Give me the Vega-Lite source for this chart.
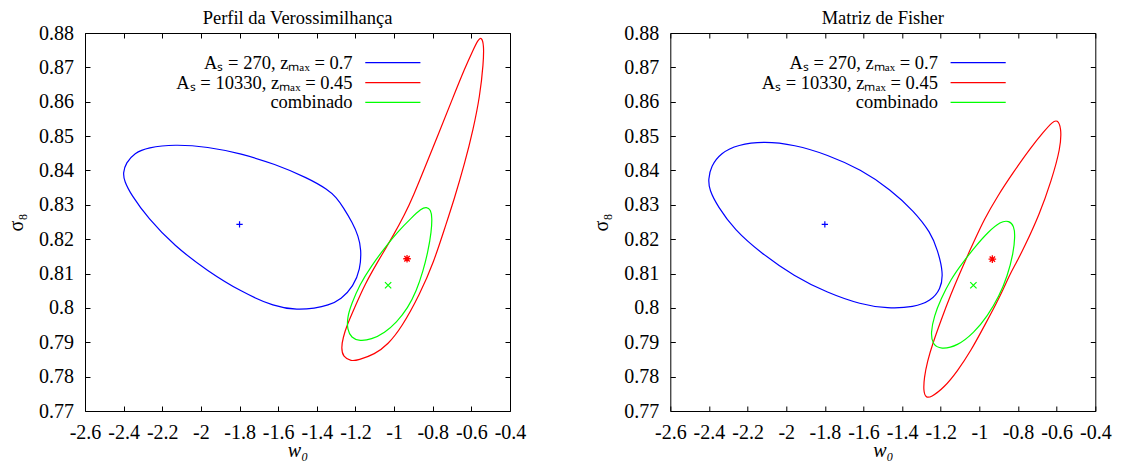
{
 "$schema": "https://vega.github.io/schema/vega-lite/v6.json",
 "background": "white",
 "padding": {"left": 6, "top": 8, "right": 5, "bottom": 5},
 "datasets": {
  "ell": [
   {"p":"L","s":"A","i":0,"x":-2.4035,"y":0.8393},{"p":"L","s":"A","i":1,"x":-2.388,"y":0.8422},{"p":"L","s":"A","i":2,"x":-2.344,"y":0.8451},{"p":"L","s":"A","i":3,"x":-2.2755,"y":0.8467},{"p":"L","s":"A","i":4,"x":-2.137,"y":0.8476},{"p":"L","s":"A","i":5,"x":-1.9644,"y":0.8469},{"p":"L","s":"A","i":6,"x":-1.7918,"y":0.8449},{"p":"L","s":"A","i":7,"x":-1.6187,"y":0.8419},{"p":"L","s":"A","i":8,"x":-1.446,"y":0.8378},{"p":"L","s":"A","i":8.5,"x":-1.342,"y":0.8344},{"p":"L","s":"A","i":9,"x":-1.3,"y":0.8322},{"p":"L","s":"A","i":10,"x":-1.2634,"y":0.8293},{"p":"L","s":"A","i":11,"x":-1.2156,"y":0.8248},{"p":"L","s":"A","i":12,"x":-1.1848,"y":0.8209},{"p":"L","s":"A","i":13,"x":-1.1697,"y":0.817},{"p":"L","s":"A","i":14,"x":-1.175,"y":0.8112},{"p":"L","s":"A","i":15,"x":-1.2108,"y":0.8063},{"p":"L","s":"A","i":16,"x":-1.2734,"y":0.8025},{"p":"L","s":"A","i":17,"x":-1.3424,"y":0.8007},{"p":"L","s":"A","i":18,"x":-1.4113,"y":0.7999},{"p":"L","s":"A","i":19,"x":-1.4979,"y":0.7994},{"p":"L","s":"A","i":20,"x":-1.6187,"y":0.8003},{"p":"L","s":"A","i":21,"x":-1.7918,"y":0.8047},{"p":"L","s":"A","i":22,"x":-1.9644,"y":0.8107},{"p":"L","s":"A","i":23,"x":-2.137,"y":0.818},{"p":"L","s":"A","i":24,"x":-2.2755,"y":0.8262},{"p":"L","s":"A","i":25,"x":-2.362,"y":0.833},{"p":"L","s":"A","i":26,"x":-2.3963,"y":0.8369},
   {"p":"L","s":"B","i":0,"x":-0.5476,"y":0.8788},{"p":"L","s":"B","i":1,"x":-0.5352,"y":0.8766},{"p":"L","s":"B","i":2,"x":-0.5373,"y":0.8713},{"p":"L","s":"B","i":3,"x":-0.5559,"y":0.8616},{"p":"L","s":"B","i":4,"x":-0.5907,"y":0.8519},{"p":"L","s":"B","i":5,"x":-0.6337,"y":0.8422},{"p":"L","s":"B","i":6,"x":-0.6894,"y":0.8315},{"p":"L","s":"B","i":7,"x":-0.7374,"y":0.8233},{"p":"L","s":"B","i":8,"x":-0.7929,"y":0.8136},{"p":"L","s":"B","i":9,"x":-0.867,"y":0.8039},{"p":"L","s":"B","i":10,"x":-0.9624,"y":0.7942},{"p":"L","s":"B","i":11,"x":-1.0313,"y":0.7894},{"p":"L","s":"B","i":12,"x":-1.0997,"y":0.7865},{"p":"L","s":"B","i":13,"x":-1.1868,"y":0.7848},{"p":"L","s":"B","i":14,"x":-1.2216,"y":0.7845},{"p":"L","s":"B","i":15,"x":-1.2646,"y":0.7857},{"p":"L","s":"B","i":16,"x":-1.2734,"y":0.7884},{"p":"L","s":"B","i":17,"x":-1.2646,"y":0.7913},{"p":"L","s":"B","i":18,"x":-1.2423,"y":0.7952},{"p":"L","s":"B","i":19,"x":-1.2039,"y":0.8001},{"p":"L","s":"B","i":20,"x":-1.1521,"y":0.8068},{"p":"L","s":"B","i":21,"x":-1.0832,"y":0.8136},{"p":"L","s":"B","i":22,"x":-1.0054,"y":0.8209},{"p":"L","s":"B","i":23,"x":-0.9447,"y":0.8272},{"p":"L","s":"B","i":24,"x":-0.9017,"y":0.8324},{"p":"L","s":"B","i":25,"x":-0.841,"y":0.8408},{"p":"L","s":"B","i":26,"x":-0.7721,"y":0.8504},{"p":"L","s":"B","i":27,"x":-0.7032,"y":0.8601},{"p":"L","s":"B","i":28,"x":-0.6337,"y":0.8698},{"p":"L","s":"B","i":29,"x":-0.5907,"y":0.8751},{"p":"L","s":"B","i":30,"x":-0.5648,"y":0.8781},
   {"p":"L","s":"C","i":0,"x":-0.8328,"y":0.8294},{"p":"L","s":"C","i":1,"x":-0.8099,"y":0.8286},{"p":"L","s":"C","i":2,"x":-0.8032,"y":0.8262},{"p":"L","s":"C","i":3,"x":-0.8068,"y":0.8223},{"p":"L","s":"C","i":4,"x":-0.824,"y":0.8165},{"p":"L","s":"C","i":5,"x":-0.8499,"y":0.8107},{"p":"L","s":"C","i":6,"x":-0.8846,"y":0.8049},{"p":"L","s":"C","i":7,"x":-0.9276,"y":0.8001},{"p":"L","s":"C","i":8,"x":-0.9883,"y":0.7957},{"p":"L","s":"C","i":9,"x":-1.0484,"y":0.7928},{"p":"L","s":"C","i":10,"x":-1.1179,"y":0.7908},{"p":"L","s":"C","i":11,"x":-1.178,"y":0.7903},{"p":"L","s":"C","i":12,"x":-1.2216,"y":0.7913},{"p":"L","s":"C","i":13,"x":-1.2423,"y":0.7937},{"p":"L","s":"C","i":14,"x":-1.2423,"y":0.7972},{"p":"L","s":"C","i":15,"x":-1.2216,"y":0.801},{"p":"L","s":"C","i":16,"x":-1.178,"y":0.8068},{"p":"L","s":"C","i":17,"x":-1.1179,"y":0.8122},{"p":"L","s":"C","i":18,"x":-1.0484,"y":0.8175},{"p":"L","s":"C","i":19,"x":-0.9795,"y":0.8223},{"p":"L","s":"C","i":20,"x":-0.9105,"y":0.8262},{"p":"L","s":"C","i":21,"x":-0.8587,"y":0.8289},
   {"p":"R","s":"A","i":0,"x":-2.4034,"y":0.8374},{"p":"R","s":"A","i":1,"x":-2.39,"y":0.8412},{"p":"R","s":"A","i":2,"x":-2.3382,"y":0.8451},{"p":"R","s":"A","i":3,"x":-2.2518,"y":0.8475},{"p":"R","s":"A","i":4,"x":-2.1137,"y":0.8485},{"p":"R","s":"A","i":5,"x":-1.9585,"y":0.8475},{"p":"R","s":"A","i":6,"x":-1.7862,"y":0.8446},{"p":"R","s":"A","i":7,"x":-1.614,"y":0.8403},{"p":"R","s":"A","i":8,"x":-1.4588,"y":0.8344},{"p":"R","s":"A","i":9,"x":-1.3377,"y":0.8281},{"p":"R","s":"A","i":10,"x":-1.2518,"y":0.8219},{"p":"R","s":"A","i":11,"x":-1.2172,"y":0.817},{"p":"R","s":"A","i":12,"x":-1.1861,"y":0.8102},{"p":"R","s":"A","i":13,"x":-1.2001,"y":0.8054},{"p":"R","s":"A","i":14,"x":-1.2518,"y":0.802},{"p":"R","s":"A","i":15,"x":-1.3377,"y":0.8002},{"p":"R","s":"A","i":16,"x":-1.4758,"y":0.7998},{"p":"R","s":"A","i":17,"x":-1.614,"y":0.801},{"p":"R","s":"A","i":18,"x":-1.7862,"y":0.8044},{"p":"R","s":"A","i":19,"x":-1.9585,"y":0.8092},{"p":"R","s":"A","i":20,"x":-2.1313,"y":0.816},{"p":"R","s":"A","i":21,"x":-2.2689,"y":0.8228},{"p":"R","s":"A","i":22,"x":-2.3553,"y":0.8296},{"p":"R","s":"A","i":23,"x":-2.3982,"y":0.8344},
   {"p":"R","s":"B","i":0,"x":-0.5964,"y":0.8548},{"p":"R","s":"B","i":1,"x":-0.5757,"y":0.8524},{"p":"R","s":"B","i":2,"x":-0.5793,"y":0.8466},{"p":"R","s":"B","i":3,"x":-0.628,"y":0.8369},{"p":"R","s":"B","i":4,"x":-0.689,"y":0.8272},{"p":"R","s":"B","i":5,"x":-0.769,"y":0.8175},{"p":"R","s":"B","i":6,"x":-0.814,"y":0.8126},{"p":"R","s":"B","i":7,"x":-0.843,"y":0.8097},{"p":"R","s":"B","i":8,"x":-0.896,"y":0.803},{"p":"R","s":"B","i":9,"x":-0.97,"y":0.7952},{"p":"R","s":"B","i":10,"x":-1.0449,"y":0.7874},{"p":"R","s":"B","i":11,"x":-1.1137,"y":0.7816},{"p":"R","s":"B","i":12,"x":-1.1825,"y":0.7768},{"p":"R","s":"B","i":13,"x":-1.2518,"y":0.7739},{"p":"R","s":"B","i":14,"x":-1.2777,"y":0.7739},{"p":"R","s":"B","i":15,"x":-1.2896,"y":0.7758},{"p":"R","s":"B","i":16,"x":-1.286,"y":0.7797},{"p":"R","s":"B","i":17,"x":-1.2689,"y":0.7845},{"p":"R","s":"B","i":18,"x":-1.243,"y":0.7894},{"p":"R","s":"B","i":19,"x":-1.2001,"y":0.7962},{"p":"R","s":"B","i":20,"x":-1.1484,"y":0.8039},{"p":"R","s":"B","i":21,"x":-1.0966,"y":0.8107},{"p":"R","s":"B","i":22,"x":-1.0584,"y":0.8156},{"p":"R","s":"B","i":23,"x":-1.0273,"y":0.8194},{"p":"R","s":"B","i":24,"x":-0.9756,"y":0.8257},{"p":"R","s":"B","i":25,"x":-0.9068,"y":0.8325},{"p":"R","s":"B","i":26,"x":-0.8204,"y":0.8398},{"p":"R","s":"B","i":27,"x":-0.7345,"y":0.8466},{"p":"R","s":"B","i":28,"x":-0.6652,"y":0.8514},{"p":"R","s":"B","i":29,"x":-0.6222,"y":0.8541},
   {"p":"R","s":"C","i":0,"x":-0.8463,"y":0.8254},{"p":"R","s":"C","i":1,"x":-0.8204,"y":0.8238},{"p":"R","s":"C","i":2,"x":-0.8152,"y":0.8209},{"p":"R","s":"C","i":3,"x":-0.824,"y":0.816},{"p":"R","s":"C","i":4,"x":-0.855,"y":0.8092},{"p":"R","s":"C","i":5,"x":-0.898,"y":0.8034},{"p":"R","s":"C","i":6,"x":-0.9585,"y":0.7976},{"p":"R","s":"C","i":7,"x":-1.0273,"y":0.7928},{"p":"R","s":"C","i":8,"x":-1.1137,"y":0.7889},{"p":"R","s":"C","i":9,"x":-1.2001,"y":0.7879},{"p":"R","s":"C","i":10,"x":-1.243,"y":0.7894},{"p":"R","s":"C","i":11,"x":-1.2518,"y":0.7928},{"p":"R","s":"C","i":12,"x":-1.2343,"y":0.7976},{"p":"R","s":"C","i":13,"x":-1.2001,"y":0.8025},{"p":"R","s":"C","i":14,"x":-1.1484,"y":0.8083},{"p":"R","s":"C","i":15,"x":-1.0878,"y":0.8131},{"p":"R","s":"C","i":16,"x":-1.019,"y":0.818},{"p":"R","s":"C","i":17,"x":-0.9585,"y":0.8219},{"p":"R","s":"C","i":18,"x":-0.8897,"y":0.8252}
  ],
  "ctr": [
   {"p":"L","s":"A","x":-1.8,"y":0.8243},{"p":"L","s":"B","x":-0.933,"y":0.8143},{"p":"L","s":"C","x":-1.031,"y":0.8066},
   {"p":"R","s":"A","x":-1.8,"y":0.8243},{"p":"R","s":"B","x":-0.933,"y":0.8142},{"p":"R","s":"C","x":-1.031,"y":0.8066}
  ]
 },
 "hconcat": [
  {
   "width": 425, "height": 378,
   "title": {"text": "Perfil da Verossimilhança"},
   "resolve": {"axis": {"x": "independent", "y": "independent"}},
   "layer": [
    {
     "data": {"name": "ell"},
     "transform": [{"filter": "datum.p == 'L'"}],
     "mark": {"type": "line", "interpolate": "basis-closed", "strokeWidth": 1.2},
     "encoding": {
      "x": {"field": "x", "type": "quantitative", "title": "w₀", "scale": {"domain": [-2.6, -0.4], "nice": false, "zero": false},
            "axis": {"orient": "bottom", "values": [-2.6,-2.4,-2.2,-2,-1.8,-1.6,-1.4,-1.2,-1,-0.8,-0.6,-0.4], "format": "~g", "labelExpr": "replace(datum.label, '−', '-')", "titleFontStyle": "italic"}},
      "y": {"field": "y", "type": "quantitative", "title": "σ₈", "scale": {"domain": [0.77, 0.88], "nice": false, "zero": false},
            "axis": {"orient": "left", "values": [0.77,0.78,0.79,0.8,0.81,0.82,0.83,0.84,0.85,0.86,0.87,0.88], "format": "~g"}},
      "color": {"field": "s", "type": "nominal", "scale": {"domain": ["A","B","C"], "range": ["#0000ff","#ff0000","#00ff00"]},
                "legend": {"orient": "none", "legendX": 298.6, "legendY": 20.4, "title": null, "symbolType": "M-4,0L4,0", "symbolSize": 190, "symbolStrokeWidth": 1.3, "labelAlign": "right", "labelOffset": -49.5, "labelFont": "Liberation Serif", "labelFontSize": 18.5, "labelColor": "#000", "labelLimit": 0, "rowPadding": 0.9, "padding": 0,
                           "labelExpr": "datum.value == 'A' ? 'Aₛ = 270, zₘₐₓ = 0.7' : datum.value == 'B' ? 'Aₛ = 10330, zₘₐₓ = 0.45' : 'combinado'"}},
      "order": {"field": "i", "type": "quantitative"}
     }
    },
    {
     "data": {"name": "ctr"},
     "transform": [{"filter": "datum.p == 'L' && datum.s == 'A'"}],
     "mark": {"type": "point", "shape": "M-1,0L1,0M0,-1L0,1", "filled": false, "color": "#0000ff", "strokeWidth": 1.2, "size": 40, "opacity": 1},
     "encoding": {
      "x": {"field": "x", "type": "quantitative", "axis": {"orient": "top", "labels": false, "title": null, "values": [-2.6,-2.4,-2.2,-2,-1.8,-1.6,-1.4,-1.2,-1,-0.8,-0.6,-0.4]}},
      "y": {"field": "y", "type": "quantitative", "axis": {"orient": "right", "labels": false, "title": null, "values": [0.77,0.78,0.79,0.8,0.81,0.82,0.83,0.84,0.85,0.86,0.87,0.88]}}
     }
    },
    {
     "data": {"name": "ctr"},
     "transform": [{"filter": "datum.p == 'L' && datum.s == 'B'"}],
     "mark": {"type": "point", "shape": "M-1.2,0L1.2,0M0,-1.2L0,1.2M-0.85,-0.85L0.85,0.85M-0.85,0.85L0.85,-0.85", "filled": false, "color": "#ff0000", "strokeWidth": 1.3, "size": 40, "opacity": 1},
     "encoding": {
      "x": {"field": "x", "type": "quantitative", "axis": null},
      "y": {"field": "y", "type": "quantitative", "axis": null}
     }
    },
    {
     "data": {"name": "ctr"},
     "transform": [{"filter": "datum.p == 'L' && datum.s == 'C'"}],
     "mark": {"type": "point", "shape": "M-1,-1L1,1M-1,1L1,-1", "filled": false, "color": "#00ff00", "strokeWidth": 1.2, "size": 40, "opacity": 1},
     "encoding": {
      "x": {"field": "x", "type": "quantitative", "axis": null},
      "y": {"field": "y", "type": "quantitative", "axis": null}
     }
    }
   ]
  },
  {
   "width": 425, "height": 378,
   "title": {"text": "Matriz de Fisher"},
   "resolve": {"axis": {"x": "independent", "y": "independent"}},
   "layer": [
    {
     "data": {"name": "ell"},
     "transform": [{"filter": "datum.p == 'R'"}],
     "mark": {"type": "line", "interpolate": "basis-closed", "strokeWidth": 1.2},
     "encoding": {
      "x": {"field": "x", "type": "quantitative", "title": "w₀", "scale": {"domain": [-2.6, -0.4], "nice": false, "zero": false},
            "axis": {"orient": "bottom", "values": [-2.6,-2.4,-2.2,-2,-1.8,-1.6,-1.4,-1.2,-1,-0.8,-0.6,-0.4], "format": "~g", "labelExpr": "replace(datum.label, '−', '-')", "titleFontStyle": "italic"}},
      "y": {"field": "y", "type": "quantitative", "title": "σ₈", "scale": {"domain": [0.77, 0.88], "nice": false, "zero": false},
            "axis": {"orient": "left", "values": [0.77,0.78,0.79,0.8,0.81,0.82,0.83,0.84,0.85,0.86,0.87,0.88], "format": "~g"}},
      "color": {"field": "s", "type": "nominal", "scale": {"domain": ["A","B","C"], "range": ["#0000ff","#ff0000","#00ff00"]},
                "legend": {"orient": "none", "legendX": 298.6, "legendY": 20.4, "title": null, "symbolType": "M-4,0L4,0", "symbolSize": 190, "symbolStrokeWidth": 1.3, "labelAlign": "right", "labelOffset": -49.5, "labelFont": "Liberation Serif", "labelFontSize": 18.5, "labelColor": "#000", "labelLimit": 0, "rowPadding": 0.9, "padding": 0,
                           "labelExpr": "datum.value == 'A' ? 'Aₛ = 270, zₘₐₓ = 0.7' : datum.value == 'B' ? 'Aₛ = 10330, zₘₐₓ = 0.45' : 'combinado'"}},
      "order": {"field": "i", "type": "quantitative"}
     }
    },
    {
     "data": {"name": "ctr"},
     "transform": [{"filter": "datum.p == 'R' && datum.s == 'A'"}],
     "mark": {"type": "point", "shape": "M-1,0L1,0M0,-1L0,1", "filled": false, "color": "#0000ff", "strokeWidth": 1.2, "size": 40, "opacity": 1},
     "encoding": {
      "x": {"field": "x", "type": "quantitative", "axis": {"orient": "top", "labels": false, "title": null, "values": [-2.6,-2.4,-2.2,-2,-1.8,-1.6,-1.4,-1.2,-1,-0.8,-0.6,-0.4]}},
      "y": {"field": "y", "type": "quantitative", "axis": {"orient": "right", "labels": false, "title": null, "values": [0.77,0.78,0.79,0.8,0.81,0.82,0.83,0.84,0.85,0.86,0.87,0.88]}}
     }
    },
    {
     "data": {"name": "ctr"},
     "transform": [{"filter": "datum.p == 'R' && datum.s == 'B'"}],
     "mark": {"type": "point", "shape": "M-1.2,0L1.2,0M0,-1.2L0,1.2M-0.85,-0.85L0.85,0.85M-0.85,0.85L0.85,-0.85", "filled": false, "color": "#ff0000", "strokeWidth": 1.3, "size": 40, "opacity": 1},
     "encoding": {
      "x": {"field": "x", "type": "quantitative", "axis": null},
      "y": {"field": "y", "type": "quantitative", "axis": null}
     }
    },
    {
     "data": {"name": "ctr"},
     "transform": [{"filter": "datum.p == 'R' && datum.s == 'C'"}],
     "mark": {"type": "point", "shape": "M-1,-1L1,1M-1,1L1,-1", "filled": false, "color": "#00ff00", "strokeWidth": 1.2, "size": 40, "opacity": 1},
     "encoding": {
      "x": {"field": "x", "type": "quantitative", "axis": null},
      "y": {"field": "y", "type": "quantitative", "axis": null}
     }
    }
   ]
  }
 ],
 "spacing": 160.3,
 "bounds": "flush",
 "resolve": {"scale": {"x": "independent", "y": "independent", "color": "independent"}, "legend": {"color": "independent"}},
 "config": {
  "view": {"stroke": "#000", "strokeWidth": 1},
  "font": "Liberation Serif",
  "axis": {"domain": false, "grid": false, "tickColor": "#000", "tickSize": -5, "tickWidth": 1, "labelFont": "Liberation Serif", "labelFontSize": 20, "labelColor": "#000", "labelFlush": false, "labelOverlap": false, "titleFont": "Liberation Serif", "titleFontSize": 20, "titleFontWeight": "normal", "titleColor": "#000"},
  "axisX": {"labelPadding": 16.5, "titlePadding": -2},
  "axisY": {"labelPadding": 16.5, "titlePadding": 12},
  "title": {"font": "Liberation Serif", "fontSize": 18.5, "fontWeight": "normal", "color": "#000", "offset": -4.2}
 }
}
